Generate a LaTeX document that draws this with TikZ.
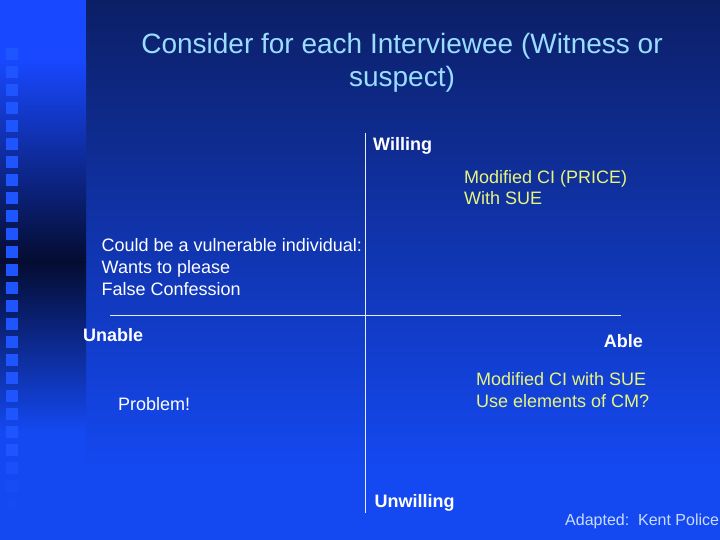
\documentclass[tikz,border=0pt]{standalone}
\usepackage{fontspec}
\setmainfont{Liberation Sans}
\definecolor{bgtop}{HTML}{0C1F66}
\definecolor{bgbot}{HTML}{1448F0}
\definecolor{stripbright}{HTML}{1848FF}
\definecolor{stripdark}{HTML}{040C30}
\definecolor{sqcol}{HTML}{1E55FF}
\definecolor{titlecol}{HTML}{99DDFF}
\definecolor{yel}{HTML}{E8F57C}
\definecolor{notecol}{HTML}{C8DCFF}
\definecolor{axiscol}{HTML}{E6ECFF}
\begin{document}
\begin{tikzpicture}[x=1pt,y=-1pt,
  txt/.style={inner sep=0pt,anchor=base west,text=white,font=\fontsize{18}{21.6}\selectfont},
  boldtxt/.style={txt,font=\fontsize{18}{21.6}\selectfont\bfseries},
  yeltxt/.style={txt,text=yel},
  titletxt/.style={inner sep=0pt,anchor=base,text=titlecol,font=\fontsize{28}{33}\selectfont},
  axisline/.style={draw=axiscol,line width=1pt}]
\useasboundingbox (0,0) rectangle (720,540);
% background main area
\shade[top color=bgtop,bottom color=bgbot] (86,0) rectangle (720,465);
\fill[bgbot] (86,464) rectangle (720,540);
% left strip
\fill[stripbright] (0,0) rectangle (86,61);
\shade[top color=stripbright,bottom color=stripdark] (0,60) rectangle (86,262);
\shade[top color=stripdark,bottom color=bgbot] (0,261) rectangle (86,431);
\fill[bgbot] (0,430) rectangle (86,540);
% squares
\foreach \k in {0,...,22} \fill[sqcol] (6,48+18*\k) rectangle ++(12,12);
\foreach \k/\op in {23/0.6,24/0.35,25/0.15} \fill[sqcol,opacity=\op] (6,48+18*\k) rectangle ++(12,12);
% title
\node[titletxt] (t1) at (402,54) {Consider for each Interviewee (Witness or};
\node[titletxt] (t2) at (402,87) {suspect)};
% axes
\coordinate (vtop) at (365,133);
\coordinate (vbot) at (365,513);
\coordinate (hleft) at (110,315);
\coordinate (hright) at (621,315);
\draw[axisline] (vtop) -- (vbot);
\draw[axisline] (hleft) -- (hright);
% labels
\node[boldtxt] (willing) at (373,150.5) {Willing};
\node[boldtxt] (unwilling) at (374.5,507.5) {Unwilling};
\node[boldtxt] (unable) at (83,341.5) {Unable};
\node[boldtxt,anchor=base east] (able) at (643,347) {Able};
\node[yeltxt] (q1a) at (464,183.3) {Modified CI (PRICE)};
\node[yeltxt] (q1b) at (464,205) {With SUE};
\node[txt] (q2a) at (101.5,251.5) {Could be a vulnerable individual:};
\node[txt] (q2b) at (101.5,273.3) {Wants to please};
\node[txt] (q2c) at (101.5,295) {False Confession};
\node[yeltxt] (q4a) at (476,385.5) {Modified CI with SUE};
\node[yeltxt] (q4b) at (476,407.3) {Use elements of CM?};
\node[txt] (q3) at (118,410) {Problem!};
\node[txt,text=notecol,font=\fontsize{16}{19}\selectfont] (src) at (565,525) {Adapted:\ \ Kent Police};
\end{tikzpicture}
\end{document}
